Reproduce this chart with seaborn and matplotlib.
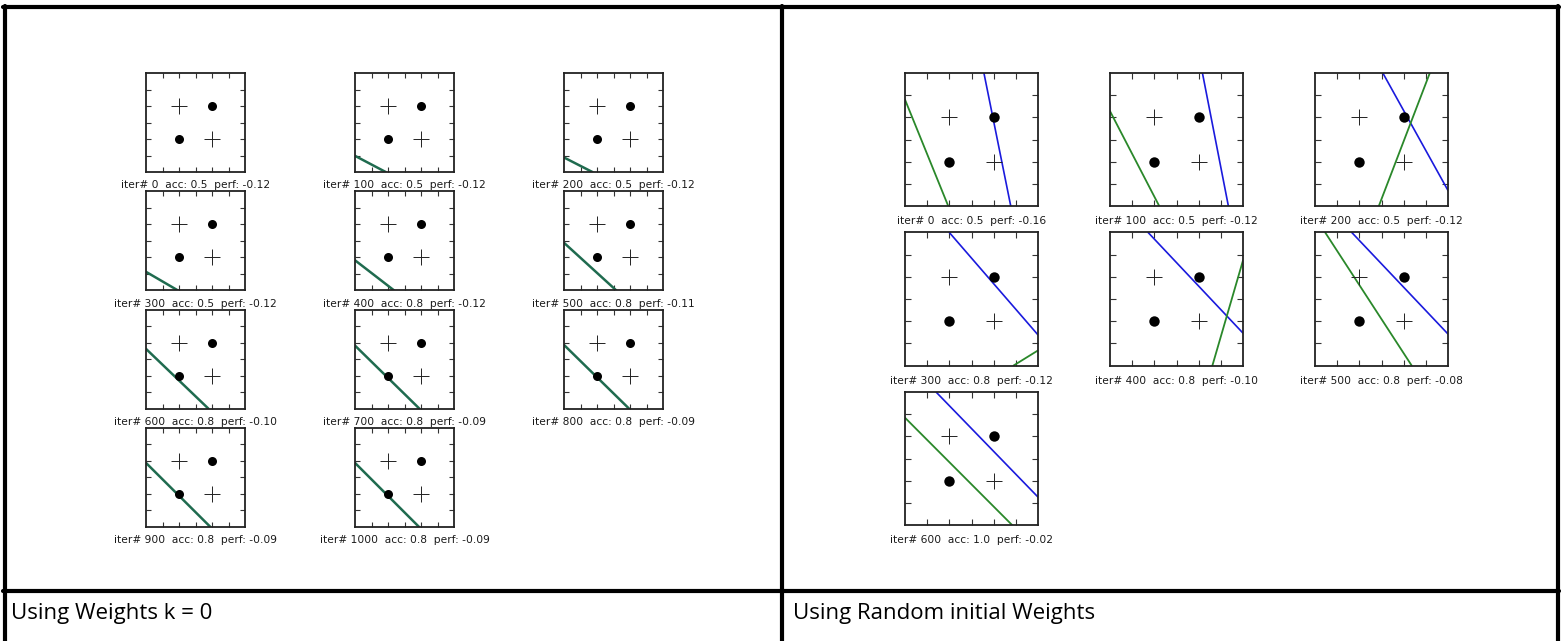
import numpy as np
import pandas as pd
import matplotlib.pyplot as plt
from matplotlib.lines import Line2D
import seaborn as sns

sns.set_style("white")
plt.rcParams['font.family'] = ['DejaVu Sans']

# XOR training points
pt_x = [1, 2, 1, 2]
pt_y = [1, 2, 2, 1]
pt_cls = ['dot', 'dot', 'plus', 'plus']
tick_vals = [0.5, 1.0, 1.5, 2.0, 2.5]

# left panel: weights start at k = 0 (both boundaries coincide)
left_iter = [0, 100, 200, 300, 400, 500, 600, 700, 800, 900, 1000]
left_acc = [0.5, 0.5, 0.5, 0.5, 0.8, 0.8, 0.8, 0.8, 0.8, 0.8, 0.8]
left_perf = [-0.12, -0.12, -0.12, -0.12, -0.12, -0.11, -0.10, -0.09, -0.09, -0.09, -0.09]
# boundary line endpoints (x0, y0, x1, y1), None = no line
left_line = [None,
             (0, 0.49, 0.93, 0), (0, 0.44, 0.86, 0), (0, 0.56, 0.96, 0),
             (0, 0.91, 1.18, 0), (0, 1.44, 1.58, 0), (0, 1.81, 1.89, 0),
             (0, 1.91, 1.95, 0), (0, 1.93, 1.97, 0), (0, 1.94, 1.95, 0),
             (0, 1.94, 1.94, 0)]

# right panel: random initial weights
right_iter = [0, 100, 200, 300, 400, 500, 600]
right_acc = [0.5, 0.5, 0.5, 0.8, 0.8, 0.8, 1.0]
right_perf = [-0.16, -0.12, -0.12, -0.12, -0.10, -0.08, -0.02]
right_blue = [(1.78, 3, 2.385, 0), (2.085, 3, 2.67, 0), (1.53, 3, 3, 0.35),
              (1.0, 3, 3, 0.69), (0.86, 3, 3, 0.73), (0.83, 3, 3, 0.71),
              (0.70, 3, 3, 0.63)]
right_green = [(0, 2.40, 0.975, 0), (0, 2.14, 1.11, 0), (1.44, 0, 2.59, 3),
               (2.45, 0, 3, 0.34), (2.31, 0, 3, 2.37), (0.23, 3, 2.18, 0),
               (0, 2.42, 2.415, 0)]

points = pd.DataFrame({'x': pt_x, 'y': pt_y, 'cls': pt_cls})

W, H = 1562, 641
fig = plt.figure(figsize=(W / 100, H / 100), dpi=100)


def px_axes(x, y, w, h):
    return fig.add_axes([x / W, 1 - (y + h) / H, w / W, h / H])


def draw_cell(ax, lines, label, lab_off, dot, plus, tick_len):
    for seg, col, lw in lines:
        if seg is None:
            continue
        seg_df = pd.DataFrame({'x': [seg[0], seg[2]], 'y': [seg[1], seg[3]]})
        sns.lineplot(data=seg_df, x='x', y='y', ax=ax, color=col, lw=lw,
                     sort=False, estimator=None, legend=False)
    d = points[points.cls == 'dot']
    p = points[points.cls == 'plus']
    sns.scatterplot(data=d, x='x', y='y', ax=ax, color='black', s=dot ** 2,
                    marker='o', edgecolor='black', linewidth=0, legend=False, zorder=3)
    sns.scatterplot(data=p, x='x', y='y', ax=ax, color='#222222', s=plus ** 2,
                    marker='+', linewidth=0.7, legend=False, zorder=3)
    ax.set_xlim(0, 3)
    ax.set_ylim(0, 3)
    ax.set_xticks(tick_vals)
    ax.set_yticks(tick_vals)
    ax.tick_params(direction='in', length=tick_len, width=0.8,
                   bottom=True, left=True, top=True, right=True,
                   labelbottom=False, labelleft=False, color='#333333')
    ax.set_xlabel('')
    ax.set_ylabel('')
    for sp in ax.spines.values():
        sp.set_visible(True)
        sp.set_linewidth(1.3)
        sp.set_color('#222222')
    ax.text(0.5, -lab_off, label, transform=ax.transAxes,
            ha='center', va='center', fontsize=7.7, color='#1a1a1a')


# left grid
lx0, ly0, lsz, ldx, ldy = 146, 73, 99, 209, 118.3
for i, it in enumerate(left_iter):
    r, c = divmod(i, 3)
    ax = px_axes(lx0 + c * ldx, ly0 + r * ldy, lsz, lsz)
    lab = f"iter# {it}  acc: {left_acc[i]}  perf: {left_perf[i]:.2f}"
    draw_cell(ax, [(left_line[i], '#1f6b4f', 1.8)], lab, 0.135, 6.5, 11, 3.5)

# right grid
rx0, ry0, rsz, rdx, rdy = 905, 73, 133, 205, 159.5
for i, it in enumerate(right_iter):
    r, c = divmod(i, 3)
    ax = px_axes(rx0 + c * rdx, ry0 + r * rdy, rsz, rsz)
    lab = f"iter# {it}  acc: {right_acc[i]}  perf: {right_perf[i]:.2f}"
    draw_cell(ax, [(right_blue[i], '#1a1add', 1.2), (right_green[i], '#2a882a', 1.3)],
              lab, 0.115, 7.5, 12, 4.5)

# table borders
def hline(y, x0, x1, lw=3):
    fig.add_artist(Line2D([x0 / W, x1 / W], [1 - y / H, 1 - y / H], color='black',
                          lw=lw, transform=fig.transFigure))


def vline(x, y0, y1, lw=3):
    fig.add_artist(Line2D([x / W, x / W], [1 - y0 / H, 1 - y1 / H], color='black',
                          lw=lw, transform=fig.transFigure))


hline(7, 3, 1559)
hline(590.5, 3, 1559)
vline(4.5, 6, 641)
vline(781.5, 6, 641)
vline(1557.5, 6, 641)

fig.text(11 / W, 1 - 613 / H, "Using Weights k = 0", fontsize=16, va='center',
         ha='left', family='Open Sans', color='black')
fig.text(793 / W, 1 - 613 / H, "Using Random initial Weights", fontsize=16,
         va='center', ha='left', family='Open Sans', color='black')

fig.savefig("out.png", dpi=100)
